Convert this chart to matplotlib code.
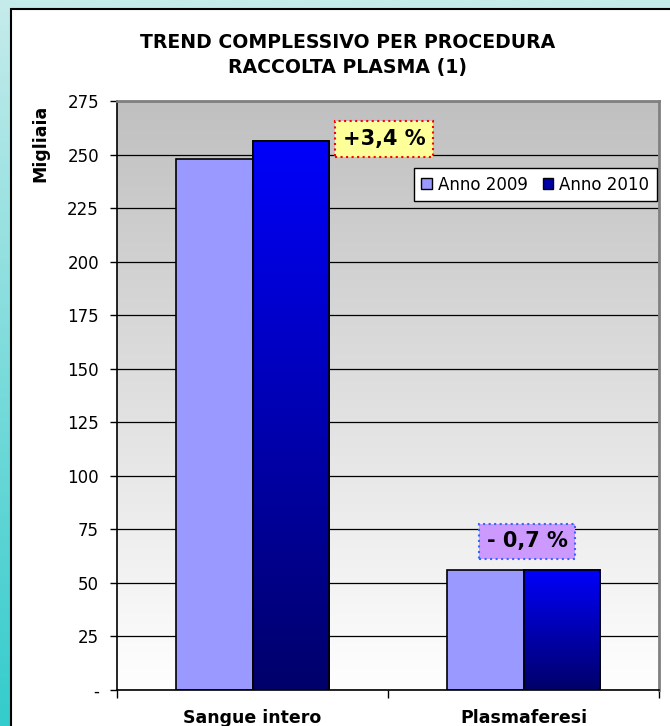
import numpy as np
import matplotlib
matplotlib.use("Agg")
import matplotlib.pyplot as plt
from matplotlib.colors import LinearSegmentedColormap
from matplotlib.patches import Rectangle

# ---------------- data ----------------
categories = ["Sangue intero", "Plasmaferesi"]
series_names = ["Anno 2009", "Anno 2010"]
values_2009 = [248.0, 56.2]
values_2010 = [256.4, 55.8]
change_labels = ["+3,4 %", "- 0,7 %"]
y_ticks = [0, 25, 50, 75, 100, 125, 150, 175, 200, 225, 250, 275]
y_tick_labels = ["-", "25", "50", "75", "100", "125", "150", "175", "200", "225", "250", "275"]
title = "TREND COMPLESSIVO PER PROCEDURA\nRACCOLTA PLASMA (1)"
y_label = "Migliaia"

W, H = 670, 726
fig = plt.figure(figsize=(W / 100, H / 100), dpi=100)
fig.patch.set_facecolor("white")

# ---------------- background (teal gradient + chart frame) ----------------
ax_bg = fig.add_axes([0, 0, 1, 1], zorder=-10)
bg_cmap = LinearSegmentedColormap.from_list("bg", ["#C6EBEB", "#34CCCC"])
ax_bg.imshow(np.linspace(0, 1, 256).reshape(-1, 1), cmap=bg_cmap, aspect="auto",
             extent=(0, W, H, 0), origin="upper")
ax_bg.add_patch(Rectangle((11.5, 9.5), 800, 800, facecolor="none", edgecolor="#808080", lw=1.5))
ax_bg.add_patch(Rectangle((10.5, 8.5), 800, 800, facecolor="white", edgecolor="black", lw=1.5))
ax_bg.set_xlim(0, W)
ax_bg.set_ylim(H, 0)
ax_bg.axis("off")

# ---------------- main axes ----------------
left, right, top, bottom = 117, 659, 101, 690
ax = fig.add_axes([left / W, 1 - bottom / H, (right - left) / W, (bottom - top) / H])

# plot-area gradient (gray top -> white bottom)
pa_cmap = LinearSegmentedColormap.from_list("pa", ["#FFFFFF", "#C0C0C0"])
ax.imshow(np.linspace(0, 1, 256).reshape(-1, 1), cmap=pa_cmap, aspect="auto",
          extent=(-0.5, 1.5, 0, 275), origin="lower", zorder=0)

x = np.arange(len(categories))
bw = 0.283
bars09 = ax.bar(x - bw / 2, values_2009, bw, color="#9999FF", edgecolor="black",
                lw=1.2, zorder=2, label=series_names[0])
bars10 = ax.bar(x + bw / 2, values_2010, bw, color="#0000CC", edgecolor="black",
                lw=1.2, zorder=2, label=series_names[1])

# gradient fill for 2010 bars
bar_cmap = LinearSegmentedColormap.from_list("bar", ["#00006A", "#0000FA"])
for b in bars10:
    x0, y0 = b.get_x(), b.get_y()
    w, h = b.get_width(), b.get_height()
    im = ax.imshow(np.linspace(0, 1, 256).reshape(-1, 1), cmap=bar_cmap, aspect="auto",
                   extent=(x0, x0 + w, y0, y0 + h), origin="lower", zorder=2.1)
    im.set_clip_path(b)
    ax.add_patch(Rectangle((x0, y0), w, h, facecolor="none", edgecolor="black",
                           lw=1.2, zorder=2.2))

ax.set_xlim(-0.5, 1.5)
ax.set_ylim(0, 275)

# grid
ax.set_axisbelow(True)
ax.yaxis.grid(True, color="black", lw=0.9, zorder=0.5)
ax.set_yticks(y_ticks)
ax.set_yticklabels(y_tick_labels, fontsize=12)
ax.tick_params(axis="y", length=5, width=1, direction="out", pad=8)

ax.set_xticks(x)
ax.set_xticklabels(categories, fontsize=12.5, fontweight="bold")
ax.set_xticks([-0.5, 0.5, 1.5], minor=True)
ax.tick_params(axis="x", which="major", length=0, pad=14)
ax.tick_params(axis="x", which="minor", length=6, width=1, direction="out")

for s in ["left", "bottom"]:
    ax.spines[s].set_color("black")
    ax.spines[s].set_linewidth(1.2)
for s in ["top", "right"]:
    ax.spines[s].set_color("#808080")
    ax.spines[s].set_linewidth(2)

# legend
handles = [Rectangle((0, 0), 1, 1, facecolor="#9999FF", edgecolor="black", lw=1),
           Rectangle((0, 0), 1, 1, facecolor="#0000AA", edgecolor="black", lw=1)]
leg = ax.legend(handles, series_names, loc="upper right", bbox_to_anchor=(0.996, 0.886),
                ncol=2, fontsize=12, frameon=True, fancybox=False, framealpha=1,
                edgecolor="black", handlelength=0.65, handleheight=0.65,
                handletextpad=0.35, columnspacing=0.9, borderpad=0.45, borderaxespad=0)
leg.get_frame().set_linewidth(1)

# change annotations
ax.text(x[0] + 0.485, values_2010[0] + 0.8, change_labels[0], ha="center", va="center",
        fontsize=15, fontweight="bold", zorder=5,
        bbox=dict(boxstyle="square,pad=0.38", facecolor="#FFFF99", edgecolor="red",
                  linestyle=":", lw=1.5))
ax.text(x[1] + 0.013, max(values_2009[1], values_2010[1]) + 13.2, change_labels[1],
        ha="center", va="center", fontsize=15, fontweight="bold", zorder=5,
        bbox=dict(boxstyle="square,pad=0.36", facecolor="#CC99FF", edgecolor="#3366FF",
                  linestyle=":", lw=1.5))

# titles
fig.text(348 / W, 1 - 55 / H, title, ha="center", va="center", fontsize=13.6,
         fontweight="bold", linespacing=1.4)
fig.text(40 / W, 1 - 143 / H, y_label, ha="center", va="center", rotation=90,
         fontsize=12.5, fontweight="bold")

fig.savefig("out.png", dpi=100)
